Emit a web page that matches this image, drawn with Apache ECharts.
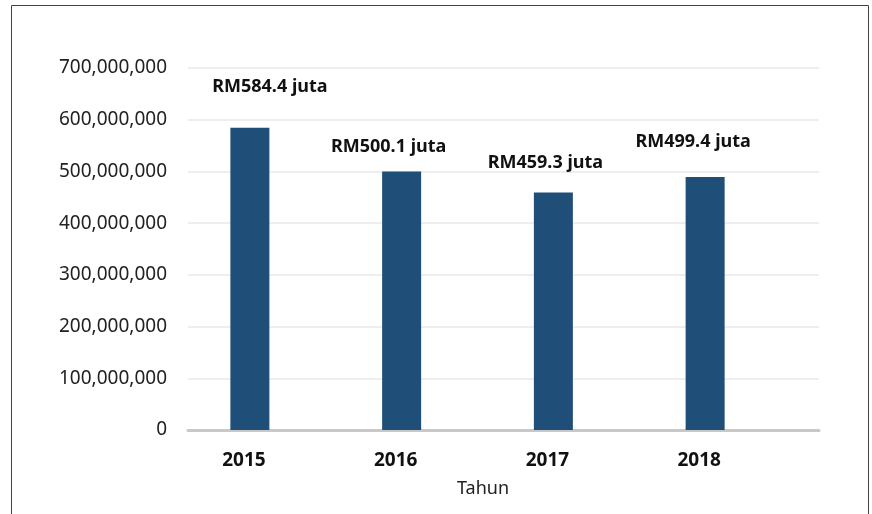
<!DOCTYPE html>
<html>
<head>
<meta charset="utf-8">
<script src="https://cdn.jsdelivr.net/npm/echarts@6/dist/echarts.min.js"></script>
<style>html,body{margin:0;padding:0;background:#fff}#c{width:872px;height:514px}</style>
</head>
<body>
<div id="c"></div>
<script>
const categories = ['2015', '2016', '2017', '2018'];
const values = [584400000, 500100000, 459300000, 489000000];
const labelTexts = ['RM584.4 juta', 'RM500.1 juta', 'RM459.3 juta', 'RM499.4 juta'];
const yTicks = { min: 0, max: 700000000, interval: 100000000 };
const xName = 'Tahun';

const labelOffsets = [[20, -27], [-13, -11], [-8, -16], [-12, -21]];
const FONT = 'Noto Sans';

const chart = echarts.init(document.getElementById('c'), null, { renderer: 'canvas' });
chart.setOption({
  animation: false,
  backgroundColor: '#fff',
  graphic: [{
    type: 'rect', shape: { x: 11.5, y: 5.5, width: 857, height: 520 },
    style: { fill: 'none', stroke: '#444', lineWidth: 1 }, silent: true, z: -1
  }],
  grid: [
    { left: 188, right: 53, top: 68, bottom: 84 },
    { left: 174, right: 91, top: 68, bottom: 84 }
  ],
  xAxis: [
    { type: 'category', gridIndex: 0, data: categories,
      axisLine: { lineStyle: { color: '#c8c8c8', width: 3 } },
      axisTick: { show: false }, axisLabel: { show: false }, splitLine: { show: false } },
    { type: 'category', gridIndex: 1, data: categories,
      axisLine: { show: false }, axisTick: { show: false },
      axisLabel: { margin: 21, color: '#111', fontFamily: FONT, fontSize: 19, fontWeight: 'bold',
        padding: [0, 12, 0, 0] },
      name: xName, nameLocation: 'middle', nameGap: 50,
      nameTextStyle: { color: '#222', fontFamily: FONT, fontSize: 18, padding: [0, 0, 0, 11] } }
  ],
  yAxis: [
    { type: 'value', gridIndex: 0, min: yTicks.min, max: yTicks.max, interval: yTicks.interval,
      axisLine: { show: false }, axisTick: { show: false },
      axisLabel: { margin: 21, color: '#222', fontFamily: FONT, fontSize: 19,
        formatter: v => v.toLocaleString('en-US') },
      splitLine: { lineStyle: { color: '#eeeeee', width: 2 } } },
    { type: 'value', gridIndex: 1, min: yTicks.min, max: yTicks.max, interval: yTicks.interval,
      show: false, splitLine: { show: false } }
  ],
  series: [{
    type: 'bar', xAxisIndex: 1, yAxisIndex: 1, barWidth: 39,
    itemStyle: { color: '#1f4e78' },
    data: values.map((v, i) => ({
      value: v,
      label: { show: true, position: 'top', offset: labelOffsets[i], formatter: labelTexts[i],
        color: '#111', fontFamily: FONT, fontSize: 18, fontWeight: 'bold' }
    }))
  }]
});
</script>
</body>
</html>
